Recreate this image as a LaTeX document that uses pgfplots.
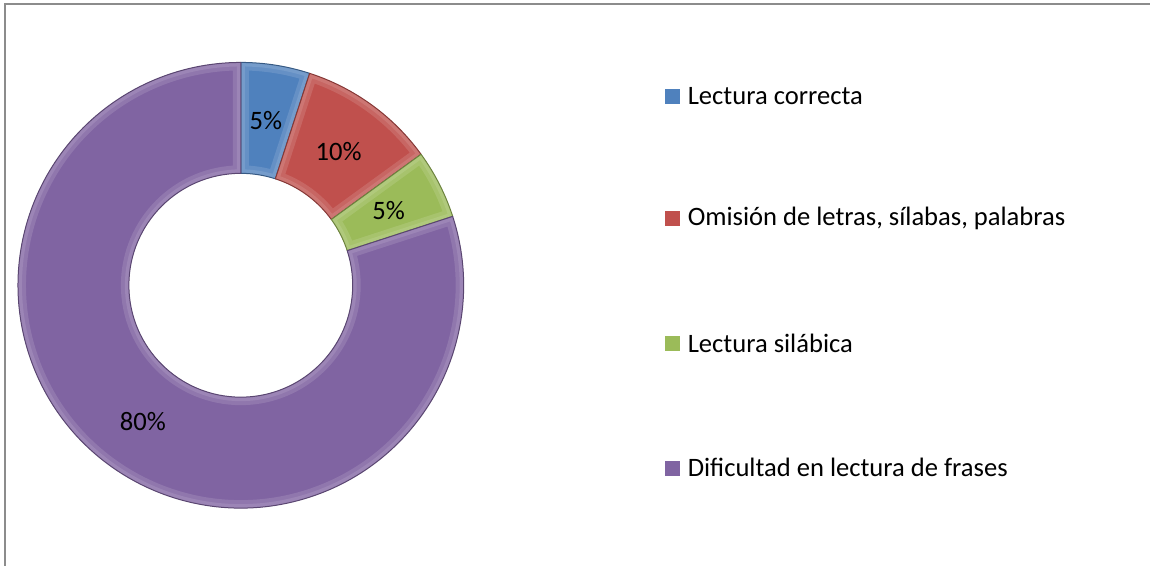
\documentclass[border=0pt]{standalone}
\usepackage{pgfplots}
\pgfplotsset{compat=1.18}
\usepackage{fontspec}
\setmainfont{Carlito}
\newcommand{\lf}{\fontsize{13.3}{16}\selectfont}
\definecolor{cblue}{HTML}{4F81BD}
\definecolor{cred}{HTML}{C0504D}
\definecolor{cgreen}{HTML}{9BBB59}
\definecolor{cpurple}{HTML}{8064A2}
% donut wedge: start angle, end angle, colour
\newcommand{\wedgepath}[2]{([shift={(#1:111.5pt)}]axis cs:241,280.5) arc[start angle=#1, end angle=#2, radius=111.5pt]
     -- ([shift={(#2:56pt)}]axis cs:241,280.5) arc[start angle=#2, end angle=#1, radius=56pt] -- cycle}
\newcommand{\donutwedge}[3]{%
  \fill[#3] \wedgepath{#1}{#2};
  \begin{scope}
    \clip \wedgepath{#1}{#2};
    \draw[#3!50!white, opacity=0.25, line width=8pt, line join=round] \wedgepath{#1}{#2};
    \draw[#3!50!white, opacity=0.25, line width=4pt, line join=round] \wedgepath{#1}{#2};
  \end{scope}
  \draw[#3!70!black, line width=0.5pt, line join=round] \wedgepath{#1}{#2};
}
\begin{document}
\begin{tikzpicture}
\begin{axis}[
  x=0.5pt, y=0.5pt,
  xmin=0, xmax=1151, ymin=0, ymax=566,
  hide axis, clip=false,
]
% invisible frame for exact bounds
\path (axis cs:0,0) rectangle (axis cs:1151,566);
% border (left and top visible)
\draw[color=gray!90, line width=1pt] (axis cs:5,0) -- (axis cs:5,562) -- (axis cs:1151,562);
% donut: values 5,10,5,80 (percent), start at 90 deg, clockwise
\donutwedge{90}{72}{cblue}
\donutwedge{72}{36}{cred}
\donutwedge{36}{18}{cgreen}
\donutwedge{18}{-270}{cpurple}
% data labels
\node[font=\lf] at (axis cs:266,445) {5\%};
\node[font=\lf] at (axis cs:339,414) {10\%};
\node[font=\lf] at (axis cs:389,355) {5\%};
\node[font=\lf] at (axis cs:143,144) {80\%};
% legend
\fill[cblue] (axis cs:666,462) rectangle (axis cs:681,477);
\node[font=\lf, anchor=west, inner sep=0pt] at (axis cs:688,470) {Lectura correcta};
\fill[cred] (axis cs:666,340) rectangle (axis cs:681,355);
\node[font=\lf, anchor=west, inner sep=0pt] at (axis cs:688,347) {Omisión de letras, sílabas, palabras};
\fill[cgreen] (axis cs:666,215) rectangle (axis cs:681,230);
\node[font=\lf, anchor=west, inner sep=0pt] at (axis cs:688,222) {Lectura silábica};
\fill[cpurple] (axis cs:666,90) rectangle (axis cs:681,105);
\node[font=\lf, anchor=west, inner sep=0pt] at (axis cs:688,98) {Dificultad en lectura de frases};
\end{axis}
\end{tikzpicture}
\end{document}
